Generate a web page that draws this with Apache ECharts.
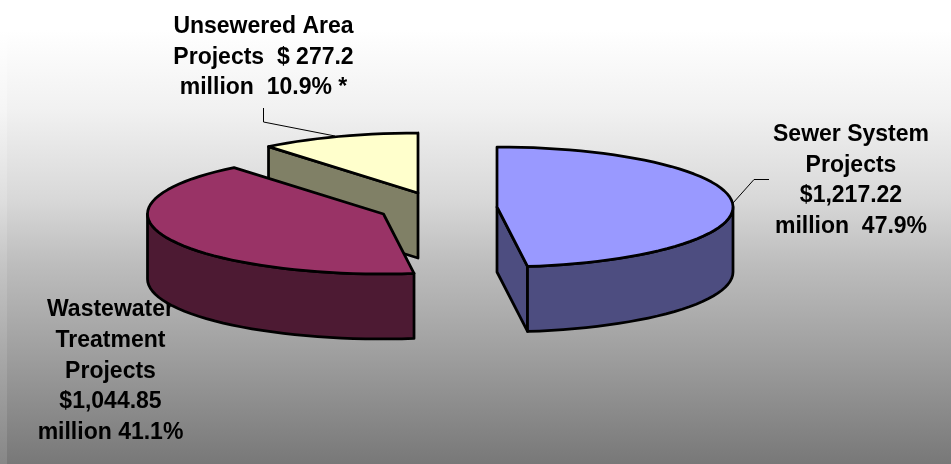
<!DOCTYPE html>
<html>
<head>
<meta charset="utf-8">
<style>html,body{margin:0;padding:0;background:#fff}#c{width:951px;height:464px}</style>
<script src="https://cdn.jsdelivr.net/npm/echarts@6/dist/echarts.min.js"></script>
</head>
<body>
<div id="c"></div>
<script>
// ---- data ----
var categories = ['Sewer System Projects', 'Wastewater Treatment Projects', 'Unsewered Area Projects'];
var values = [1217.22, 1044.85, 277.2];
var labelLines = [
  ['Sewer System', 'Projects', '$1,217.22', 'million  47.9%'],
  ['Wastewater', 'Treatment', 'Projects', '$1,044.85', 'million 41.1%'],
  ['Unsewered Area', 'Projects  $ 277.2', 'million  10.9% *']
];
// ---- styles / layout ----
var topColors = ['#9999FF', '#993366', '#FFFFCC'];
var sideColors = ['#4D4D80', '#4D1A33', '#808066'];
var apexes = [[497, 207], [383.5, 214], [418, 193]];
var labelPos = [[851, 134.5], [110.5, 310], [263.5, 26.5]];
var RX = 236, RY = 60, DEPTH = 65, LINE_H = 30.7;

var total = values.reduce(function (a, b) { return a + b; }, 0);
var starts = [], acc = 0;
values.forEach(function (v) { starts.push(acc); acc += v; });

function rim(c, t, dy) {
  return [c[0] + RX * Math.sin(t), c[1] - RY * Math.cos(t) + (dy || 0)];
}
function arc(c, a, b, dy) {
  var n = Math.max(2, Math.ceil(Math.abs(b - a) * 60 / Math.PI)), pts = [];
  for (var i = 0; i <= n; i++) pts.push(rim(c, a + (b - a) * i / n, dy));
  return pts;
}
function face(points, fill) {
  return {
    type: 'polygon',
    shape: { points: points },
    style: { fill: fill, stroke: '#000', lineWidth: 2.75, lineJoin: 'round' }
  };
}

function renderSlice(params, api) {
  var i = api.value(1);
  var c = apexes[i];
  var a0 = starts[i] / total * 2 * Math.PI;
  var a1 = (starts[i] + api.value(0)) / total * 2 * Math.PI;
  var below = [c[0], c[1] + DEPTH];
  var kids = [];
  // cut faces visible from the viewer
  if (Math.sin(a1) > 1e-6) {
    var e = rim(c, a1), e2 = rim(c, a1, DEPTH);
    kids.push(face([c, e, e2, below], sideColors[i]));
  }
  if (-Math.sin(a0) > 1e-6) {
    var s = rim(c, a0), s2 = rim(c, a0, DEPTH);
    kids.push(face([c, s, s2, below], sideColors[i]));
  }
  // outer wall: front half of the rim only
  var w0 = Math.max(a0, Math.PI / 2), w1 = Math.min(a1, 3 * Math.PI / 2);
  if (w1 > w0) {
    kids.push(face(arc(c, w0, w1, 0).concat(arc(c, w1, w0, DEPTH)), sideColors[i]));
  }
  // top face
  kids.push(face([c].concat(arc(c, a0, a1, 0)), topColors[i]));
  return { type: 'group', children: kids };
}

var H = 464;
var graphics = [
  { type: 'rect', z: 0, shape: { x: 0, y: 0, width: 7, height: H },
    style: { fill: new echarts.graphic.LinearGradient(0, 0, 0, 1, [
      { offset: 0, color: '#ffffff' },
      { offset: 30 / H, color: '#ffffff' },
      { offset: 110 / H, color: '#f5f5f5' },
      { offset: 200 / H, color: '#dedede' },
      { offset: 264 / H, color: '#c5c5c5' },
      { offset: 350 / H, color: '#aaaaaa' },
      { offset: 1, color: '#878787' }
    ]) } },
  { type: 'polyline', z: 1, shape: { points: [[263.5, 108], [263.5, 122], [335, 136]] },
    style: { fill: null, stroke: '#000', lineWidth: 1 } },
  { type: 'polyline', z: 1, shape: { points: [[733, 203], [754, 179.5], [769, 179.5]] },
    style: { fill: null, stroke: '#000', lineWidth: 1 } }
];
labelLines.forEach(function (lines, i) {
  lines.forEach(function (t, j) {
    graphics.push({
      type: 'text', z: 1,
      style: {
        text: t, x: labelPos[i][0], y: labelPos[i][1] + j * LINE_H,
        align: 'center', verticalAlign: 'middle',
        font: 'bold 23px "Liberation Sans", Arial, sans-serif', fill: '#000'
      }
    });
  });
});

// paint back to front
var order = [2, 1, 0];
var chart = echarts.init(document.getElementById('c'));
chart.setOption({
  animation: false,
  backgroundColor: new echarts.graphic.LinearGradient(0, 0, 0, 1, [
    { offset: 0, color: '#ffffff' },
    { offset: 30 / H, color: '#ffffff' },
    { offset: 110 / H, color: '#f1f1f1' },
    { offset: 200 / H, color: '#d8d8d8' },
    { offset: 264 / H, color: '#bdbdbd' },
    { offset: 350 / H, color: '#a0a0a0' },
    { offset: 1, color: '#787878' }
  ]),
  graphic: graphics,
  series: [{
    type: 'custom',
    name: 'Projects',
    coordinateSystem: 'none',
    z: 5,
    silent: true,
    renderItem: renderSlice,
    data: order.map(function (i) { return { name: categories[i], value: [values[i], i] }; })
  }]
});
</script>
</body>
</html>
